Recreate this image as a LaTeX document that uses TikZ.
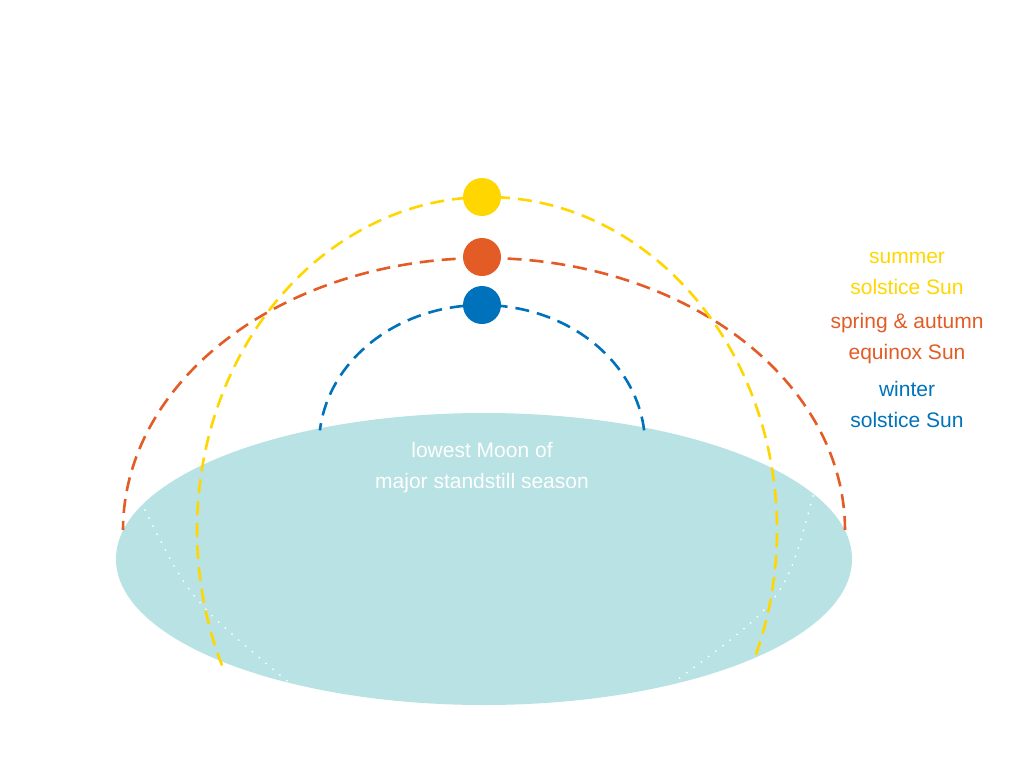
\documentclass[tikz,border=0pt]{standalone}
\usepackage{fontspec}
\setmainfont{Liberation Sans}
\definecolor{sy}{RGB}{255,214,0}
\definecolor{so}{RGB}{227,91,37}
\definecolor{sb}{RGB}{0,114,188}
\definecolor{gr}{RGB}{184,226,227}
\begin{document}
\begin{tikzpicture}[x=1pt,y=-1pt,
  arcl/.style={line width=2.6pt,dash pattern=on 14pt off 8pt},
  sun/.style={circle,minimum size=38pt,inner sep=0pt},
  lbl/.style={align=center,font=\fontsize{21}{31}\selectfont}]
\useasboundingbox (0,0) rectangle (1024,768);
\fill[gr] (484,559) ellipse [x radius=368,y radius=146];
\draw[white,line width=2pt,line cap=round,dash pattern=on 0pt off 9pt] (145,510) .. controls (190,600) .. (292,685);
\draw[white,line width=2pt,line cap=round,dash pattern=on 0pt off 9pt] (813,496) .. controls (785,600) .. (677,680);
\draw[arcl,so] plot[domain=0:180,samples=100,smooth] ({484+361*cos(\x)},{530-272*sin(\x)});
\draw[arcl,sy] plot[domain=-22:204,samples=120,smooth] ({487+290*cos(\x)},{530-333*sin(\x)});
\draw[arcl,sb] plot[domain=6:174,samples=80,smooth] ({482+163*cos(\x)},{445-140*sin(\x)});
\node[sun,fill=sy] (s1) at (482,197) {};
\node[sun,fill=so] (s2) at (482,257) {};
\node[sun,fill=sb] (s3) at (482,305) {};
\node[lbl,text=sy] (t1) at (907,273) {summer\\solstice Sun};
\node[lbl,text=so] (t2) at (907,339) {spring \& autumn\\equinox Sun};
\node[lbl,text=sb] (t3) at (907,404) {winter\\solstice Sun};
\node[lbl,text=white] (t4) at (482,468) {lowest Moon of\\major standstill season};
\end{tikzpicture}
\end{document}
